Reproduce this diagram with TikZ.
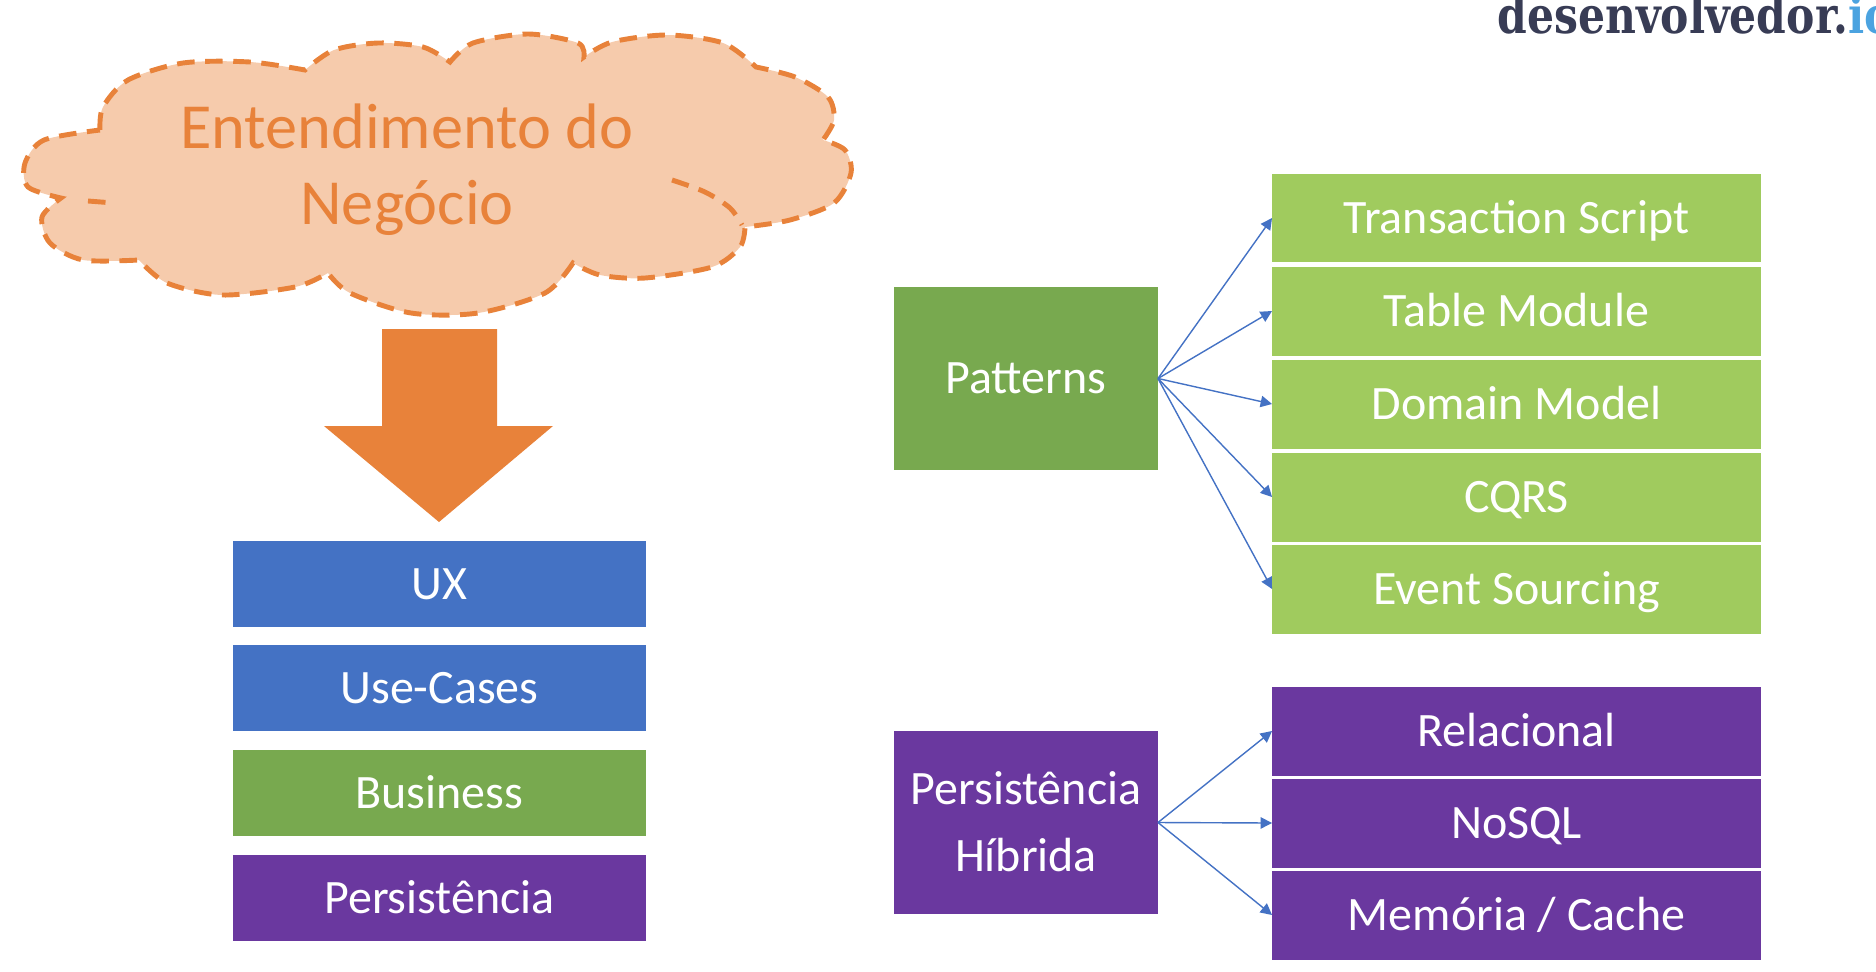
\documentclass[tikz,border=0pt]{standalone}
\usepackage{fontspec}
\setmainfont{Carlito}
\newfontfamily\logofont{DejaVu Serif}
\usetikzlibrary{arrows.meta}
\definecolor{cloudfill}{HTML}{F6CBAC}
\definecolor{cloudline}{HTML}{E8823A}
\definecolor{uxblue}{HTML}{4472C4}
\definecolor{bizgreen}{HTML}{78A94F}
\definecolor{patgreen}{HTML}{A0CB5E}
\definecolor{dbpurple}{HTML}{6A389F}
\definecolor{logodark}{HTML}{383C55}
\definecolor{logoblue}{HTML}{4BA3E0}

\begin{document}
\begin{tikzpicture}[x=0.02cm, y=-0.02cm,
  boxtext/.style={inner sep=0pt, outer sep=0pt, text=white, font=\fontsize{27.3}{38}\selectfont, text height=17.3pt, text depth=0pt},
  layer/.style={boxtext, minimum width=82.6mm, minimum height=17.2mm},
  bigbox/.style={boxtext, minimum width=52.8mm, minimum height=36.6mm},
  item/.style={boxtext, minimum width=97.8mm, minimum height=17.8mm},
  cloudpen/.style={cloudline, line width=2.8pt, dash pattern=on 10pt off 6pt},
  arr/.style={-{Triangle[length=6.5pt,width=6.5pt]}, uxblue, line width=0.8pt}]

\useasboundingbox (0,0) rectangle (1876,971);

\draw[cloudpen, fill=cloudfill] (100,130)
  -- plot[smooth] coordinates {(100,130) (103,107) (128,80) (183,63) (250,62) (305,70)}
  -- plot[smooth] coordinates {(305,70) (334,50) (378,43) (423,47) (450,62)}
  -- plot[smooth] coordinates {(450,62) (473,43) (528,34) (578,43) (584,57)}
  -- plot[smooth] coordinates {(584,57) (612,42) (667,35) (723,43) (756,67)}
  -- plot[smooth] coordinates {(756,67) (795,77) (828,97) (834,120) (823,140)}
  -- plot[smooth] coordinates {(823,140) (845,150) (851,173) (834,203) (790,220) (745,227)}
  -- plot[smooth] coordinates {(745,227) (740,247) (712,267) (645,278) (600,275) (573,263)}
  -- plot[smooth] coordinates {(573,263) (545,293) (478,313) (411,313) (350,293) (328,273)}
  -- plot[smooth] coordinates {(328,273) (295,287) (222,295) (167,283) (139,260)}
  -- plot[smooth] coordinates {(139,260) (83,260) (50,243) (42,217) (61,198)}
  -- plot[smooth] coordinates {(61,198) (28,187) (25,163) (44,140) (100,130)}
  -- cycle;
\draw[cloudpen] plot[smooth] coordinates {(672,180) (705,192) (730,208) (742,225)};
\draw[cloudpen] (88,201) -- (114,203);
\node[inner sep=0pt, text=cloudline, align=center, font=\fontsize{36.6}{43.1}\selectfont, text height=66.2pt, text depth=0pt] (negocio) at (407,166.5) {Entendimento do\\Negócio};

\fill[cloudline] (382,329) -- (497,329) -- (497,426) -- (553,426) -- (439,522) -- (324,426) -- (382,426) -- cycle;

\node[layer, fill=uxblue] (ux) at (439.5,584) {UX};
\node[layer, fill=uxblue] (usecases) at (439.5,688) {Use-Cases};
\node[layer, fill=bizgreen] (business) at (439.5,793) {Business};
\node[layer, fill=dbpurple] (persist) at (439.5,898) {Persistência};

\node[bigbox, fill=bizgreen] (patterns) at (1026,378.5) {Patterns};
\node[bigbox, fill=dbpurple, align=center, text height=55.3pt] (hibrida) at (1026,822.5) {Persistência\\Híbrida};

\node[item, fill=patgreen] (ts) at (1516.5,218) {Transaction Script};
\node[item, fill=patgreen] (tm) at (1516.5,311) {Table Module};
\node[item, fill=patgreen] (dm) at (1516.5,404) {Domain Model};
\node[item, fill=patgreen] (cqrs) at (1516.5,497) {CQRS};
\node[item, fill=patgreen] (es) at (1516.5,589) {Event Sourcing};

\node[item, fill=dbpurple] (rel) at (1516.5,731) {Relacional};
\node[item, fill=dbpurple] (nosql) at (1516.5,823) {NoSQL};
\node[item, fill=dbpurple] (cache) at (1516.5,915) {Memória / Cache};

\draw[arr] (patterns.east) -- (ts.west);
\draw[arr] (patterns.east) -- (tm.west);
\draw[arr] (patterns.east) -- (dm.west);
\draw[arr] (patterns.east) -- (cqrs.west);
\draw[arr] (patterns.east) -- (es.west);

\draw[arr] (hibrida.east) -- (rel.west);
\draw[arr] (hibrida.east) -- (nosql.west);
\draw[arr] (hibrida.east) -- (cache.west);

\node[anchor=base west, inner sep=0pt, text=logodark, font=\logofont\bfseries\fontsize{24.2}{28}\selectfont] (logo) at (1497,33) {\scalebox{1}[1.2]{desenvolvedor.\textcolor{logoblue}{io}}};
\end{tikzpicture}
\end{document}
